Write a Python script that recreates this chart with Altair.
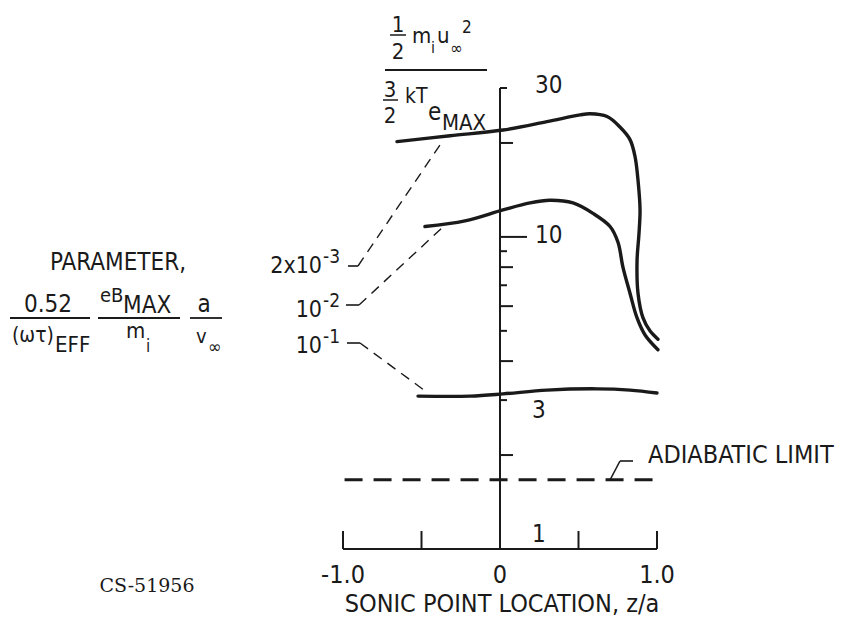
import altair as alt
import pandas as pd

# ---- data -------------------------------------------------------------
# Energy ratio vs. sonic point location for three values of the parameter
curve_names = ["2x10^-3", "10^-2", "10^-1"]

z_2e3 = [-0.656, -0.318, 0.019, 0.299, 0.51, 0.573, 0.682, 0.764, 0.828, 0.86,
         0.879, 0.892, 0.885, 0.873, 0.879, 0.911, 0.955, 1.006]
r_2e3 = [20.2, 21.1, 22.0, 23.4, 24.6, 24.8, 24.3, 22.5, 20.5, 18.1,
         15.2, 12.2, 10.2, 8.4, 6.6, 5.5, 5.0, 4.7]

z_1e2 = [-0.478, -0.223, 0.019, 0.191, 0.318, 0.465, 0.592, 0.701, 0.752, 0.783,
         0.828, 0.873, 0.924, 1.006]
r_1e2 = [10.8, 11.25, 12.2, 12.85, 13.1, 12.85, 11.9, 10.8, 9.6, 8.0,
         6.6, 5.5, 4.85, 4.35]

z_1e1 = [-0.522, -0.191, 0.019, 0.299, 0.618, 0.828, 1.0]
r_1e1 = [3.09, 3.09, 3.14, 3.23, 3.26, 3.23, 3.16]

adiabatic_z = [-0.99, 1.0]
adiabatic_r = [1.667, 1.667]

y_ticks_long = [10]
y_ticks_mid = [20, 8, 6, 4, 2]
y_ticks_short = [30, 9, 7, 5, 3]
y_tick_labels = ["30", "10", "3", "1"]
y_tick_values = [30, 10, 3, 1]

x_ticks = [-1.0, -0.5, 0.5, 1.0]
x_tick_labels = ["-1.0", "0", "1.0"]
x_tick_values = [-1.0, 0.0, 1.0]

# ---- layout -----------------------------------------------------------
W, H = 314, 461          # plot area
X0, Y0 = 343, 88         # plot origin inside the 844x623 page
INK = "#1a1a1a"
SANS = "Liberation Sans Narrow, DejaVu Sans Condensed, Liberation Sans, sans-serif"
SERIF = "DejaVu Serif, Liberation Serif, serif"

xs = alt.Scale(domain=[-1, 1], nice=False, zero=False)
ys = alt.Scale(type="log", domain=[1, 30], nice=False)

rows = []
for name, zz, rr in [(curve_names[0], z_2e3, r_2e3),
                     (curve_names[1], z_1e2, r_1e2),
                     (curve_names[2], z_1e1, r_1e1)]:
    for i, (z, r) in enumerate(zip(zz, rr)):
        rows.append({"series": name, "i": i, "z": z, "r": r})
curves_df = pd.DataFrame(rows)
adiabatic_df = pd.DataFrame({"z": adiabatic_z, "r": adiabatic_r})
one = pd.DataFrame({"k": [0]})

X = lambda f: alt.X(f, scale=xs, axis=None)
Y = lambda f: alt.Y(f, scale=ys, axis=None)

curves = alt.Chart(curves_df).mark_line(
    color=INK, strokeWidth=3.4, interpolate="catmull-rom", strokeCap="round"
).encode(x=X("z:Q"), y=Y("r:Q"), detail="series:N", order="i:Q")

adiabatic = alt.Chart(adiabatic_df).mark_line(
    color=INK, strokeWidth=3, strokeDash=[18, 11]
).encode(x=X("z:Q"), y=Y("r:Q"))

# axes drawn through the origin z = 0 and along r = 1
y_axis_line = alt.Chart(one).mark_rule(color=INK, strokeWidth=2).encode(
    x=alt.X(datum=0, scale=xs, axis=None), y=alt.Y(datum=1, scale=ys, axis=None),
    y2=alt.Y2(datum=30))
x_axis_line = alt.Chart(one).mark_rule(color=INK, strokeWidth=2).encode(
    x=alt.X(datum=-1, scale=xs, axis=None), x2=alt.X2(datum=1),
    y=alt.Y(datum=1, scale=ys, axis=None))


def y_tick_layer(values, length):
    return alt.Chart(pd.DataFrame({"v": values})).mark_rule(
        color=INK, strokeWidth=2, x2Offset=length
    ).encode(x=alt.X(datum=0, scale=xs, axis=None), x2=alt.X2(datum=0), y=Y("v:Q"))


x_tick_rules = alt.Chart(pd.DataFrame({"v": x_ticks})).mark_rule(
    color=INK, strokeWidth=2, y2Offset=-18
).encode(x=X("v:Q"), y=alt.Y(datum=1, scale=ys, axis=None), y2=alt.Y2(datum=1))

# tick labels to the right of the vertical axis
label_dy = {"30": 5, "10": 6, "3": 18, "1": -7}
label_dx = {"30": 35, "10": 35, "3": 32, "1": 32}
y_labels = []
for t, v in zip(y_tick_labels, y_tick_values):
    y_labels.append(
        alt.Chart(pd.DataFrame({"t": [t], "v": [v]})).mark_text(
            align="left", baseline="alphabetic", font=SANS, fontSize=24,
            color=INK, dx=label_dx[t], dy=label_dy[t]
        ).encode(x=alt.X(datum=0, scale=xs, axis=None), y=Y("v:Q"), text="t:N"))

x_labels = alt.Chart(pd.DataFrame({"t": x_tick_labels, "v": x_tick_values})).mark_text(
    align="center", baseline="alphabetic", font=SANS, fontSize=25, color=INK, dy=34
).encode(x=X("v:Q"), y=alt.Y(datum=1, scale=ys, axis=None), text="t:N")


def txt(s, px, py, size=25, align="left", font=SANS):
    return alt.Chart(one).mark_text(
        text=s, align=align, baseline="alphabetic", fontSize=size, font=font, color=INK
    ).encode(x=alt.value(px - X0), y=alt.value(py - Y0))


def seg(x1, y1, x2, y2, width=1.6, dash=None):
    kw = dict(color=INK, strokeWidth=width)
    if dash:
        kw["strokeDash"] = dash
    return alt.Chart(one).mark_rule(**kw).encode(
        x=alt.value(x1 - X0), y=alt.value(y1 - Y0),
        x2=alt.value(x2 - X0), y2=alt.value(y2 - Y0))


annotations = [
    # ordinate title: (1/2 m_i u_inf^2) / (3/2 k T_eMAX)
    txt("1", 398, 32, 22, "center"), seg(390, 35, 406, 35, 1.5), txt("2", 398, 59, 22, "center"),
    txt("m", 412, 43, 22), txt("i", 431, 53, 16), txt("u", 437, 43, 22),
    txt("∞", 450, 54, 17), txt("2", 462, 33, 17),
    seg(385, 70, 487, 70, 2),
    txt("3", 390, 97, 22, "center"), seg(383, 100, 398, 100, 1.5), txt("2", 390, 123, 22, "center"),
    txt("kT", 405, 103, 21), txt("e", 428, 120, 24), txt("MAX", 442, 130, 22),

    # parameter legend
    txt("PARAMETER,", 118, 270, 24, "center"),
    txt("0.52", 48, 312, 24, "center"), seg(10, 318, 90, 318, 1.8),
    txt("(ωτ)", 12, 342, 21), txt("EFF", 55, 352, 22),
    txt("eB", 100, 302, 20), txt("MAX", 123, 313, 24), seg(98, 318, 180, 318, 1.8),
    txt("m", 126, 338, 22), txt("i", 146, 352, 17),
    txt("a", 204, 312, 24, "center"), seg(190, 318, 222, 318, 1.8),
    txt("v", 196, 343, 20), txt("∞", 208, 353, 18),

    # curve labels with leaders
    txt("2x10", 322, 273, 23, "right"), txt("-3", 323, 263, 19),
    seg(348, 266, 358, 266), seg(358, 266, 442, 142, 1.4, [10, 7]),
    txt("10", 322, 317, 23, "right"), txt("-2", 323, 307, 19),
    seg(346, 305, 359, 305), seg(359, 305, 443, 227, 1.4, [10, 7]),
    txt("10", 322, 353, 23, "right"), txt("-1", 323, 343, 19),
    seg(347, 343, 360, 343), seg(360, 343, 428, 393, 1.4, [10, 7]),

    seg(610, 480, 620, 461), seg(620, 461, 633, 461),
    txt("ADIABATIC LIMIT", 648, 463, 25),

    txt("SONIC POINT LOCATION, z/a", 502, 612, 25, "center"),
    txt("CS-51956", 147, 592, 19, "center", SERIF),
]

chart = alt.layer(
    adiabatic, curves, y_axis_line, x_axis_line,
    y_tick_layer(y_ticks_long, 27), y_tick_layer(y_ticks_mid, 13), y_tick_layer(y_ticks_short, 7),
    x_tick_rules, *y_labels, x_labels, *annotations,
).properties(
    width=W, height=H,
    autosize=alt.AutoSizeParams(type="none"),
    padding={"left": X0, "top": Y0, "right": 844 - X0 - W, "bottom": 623 - Y0 - H},
    background="white",
).configure_view(stroke=None)

chart.save("out.html", embed_options={"renderer": "svg", "actions": False})
